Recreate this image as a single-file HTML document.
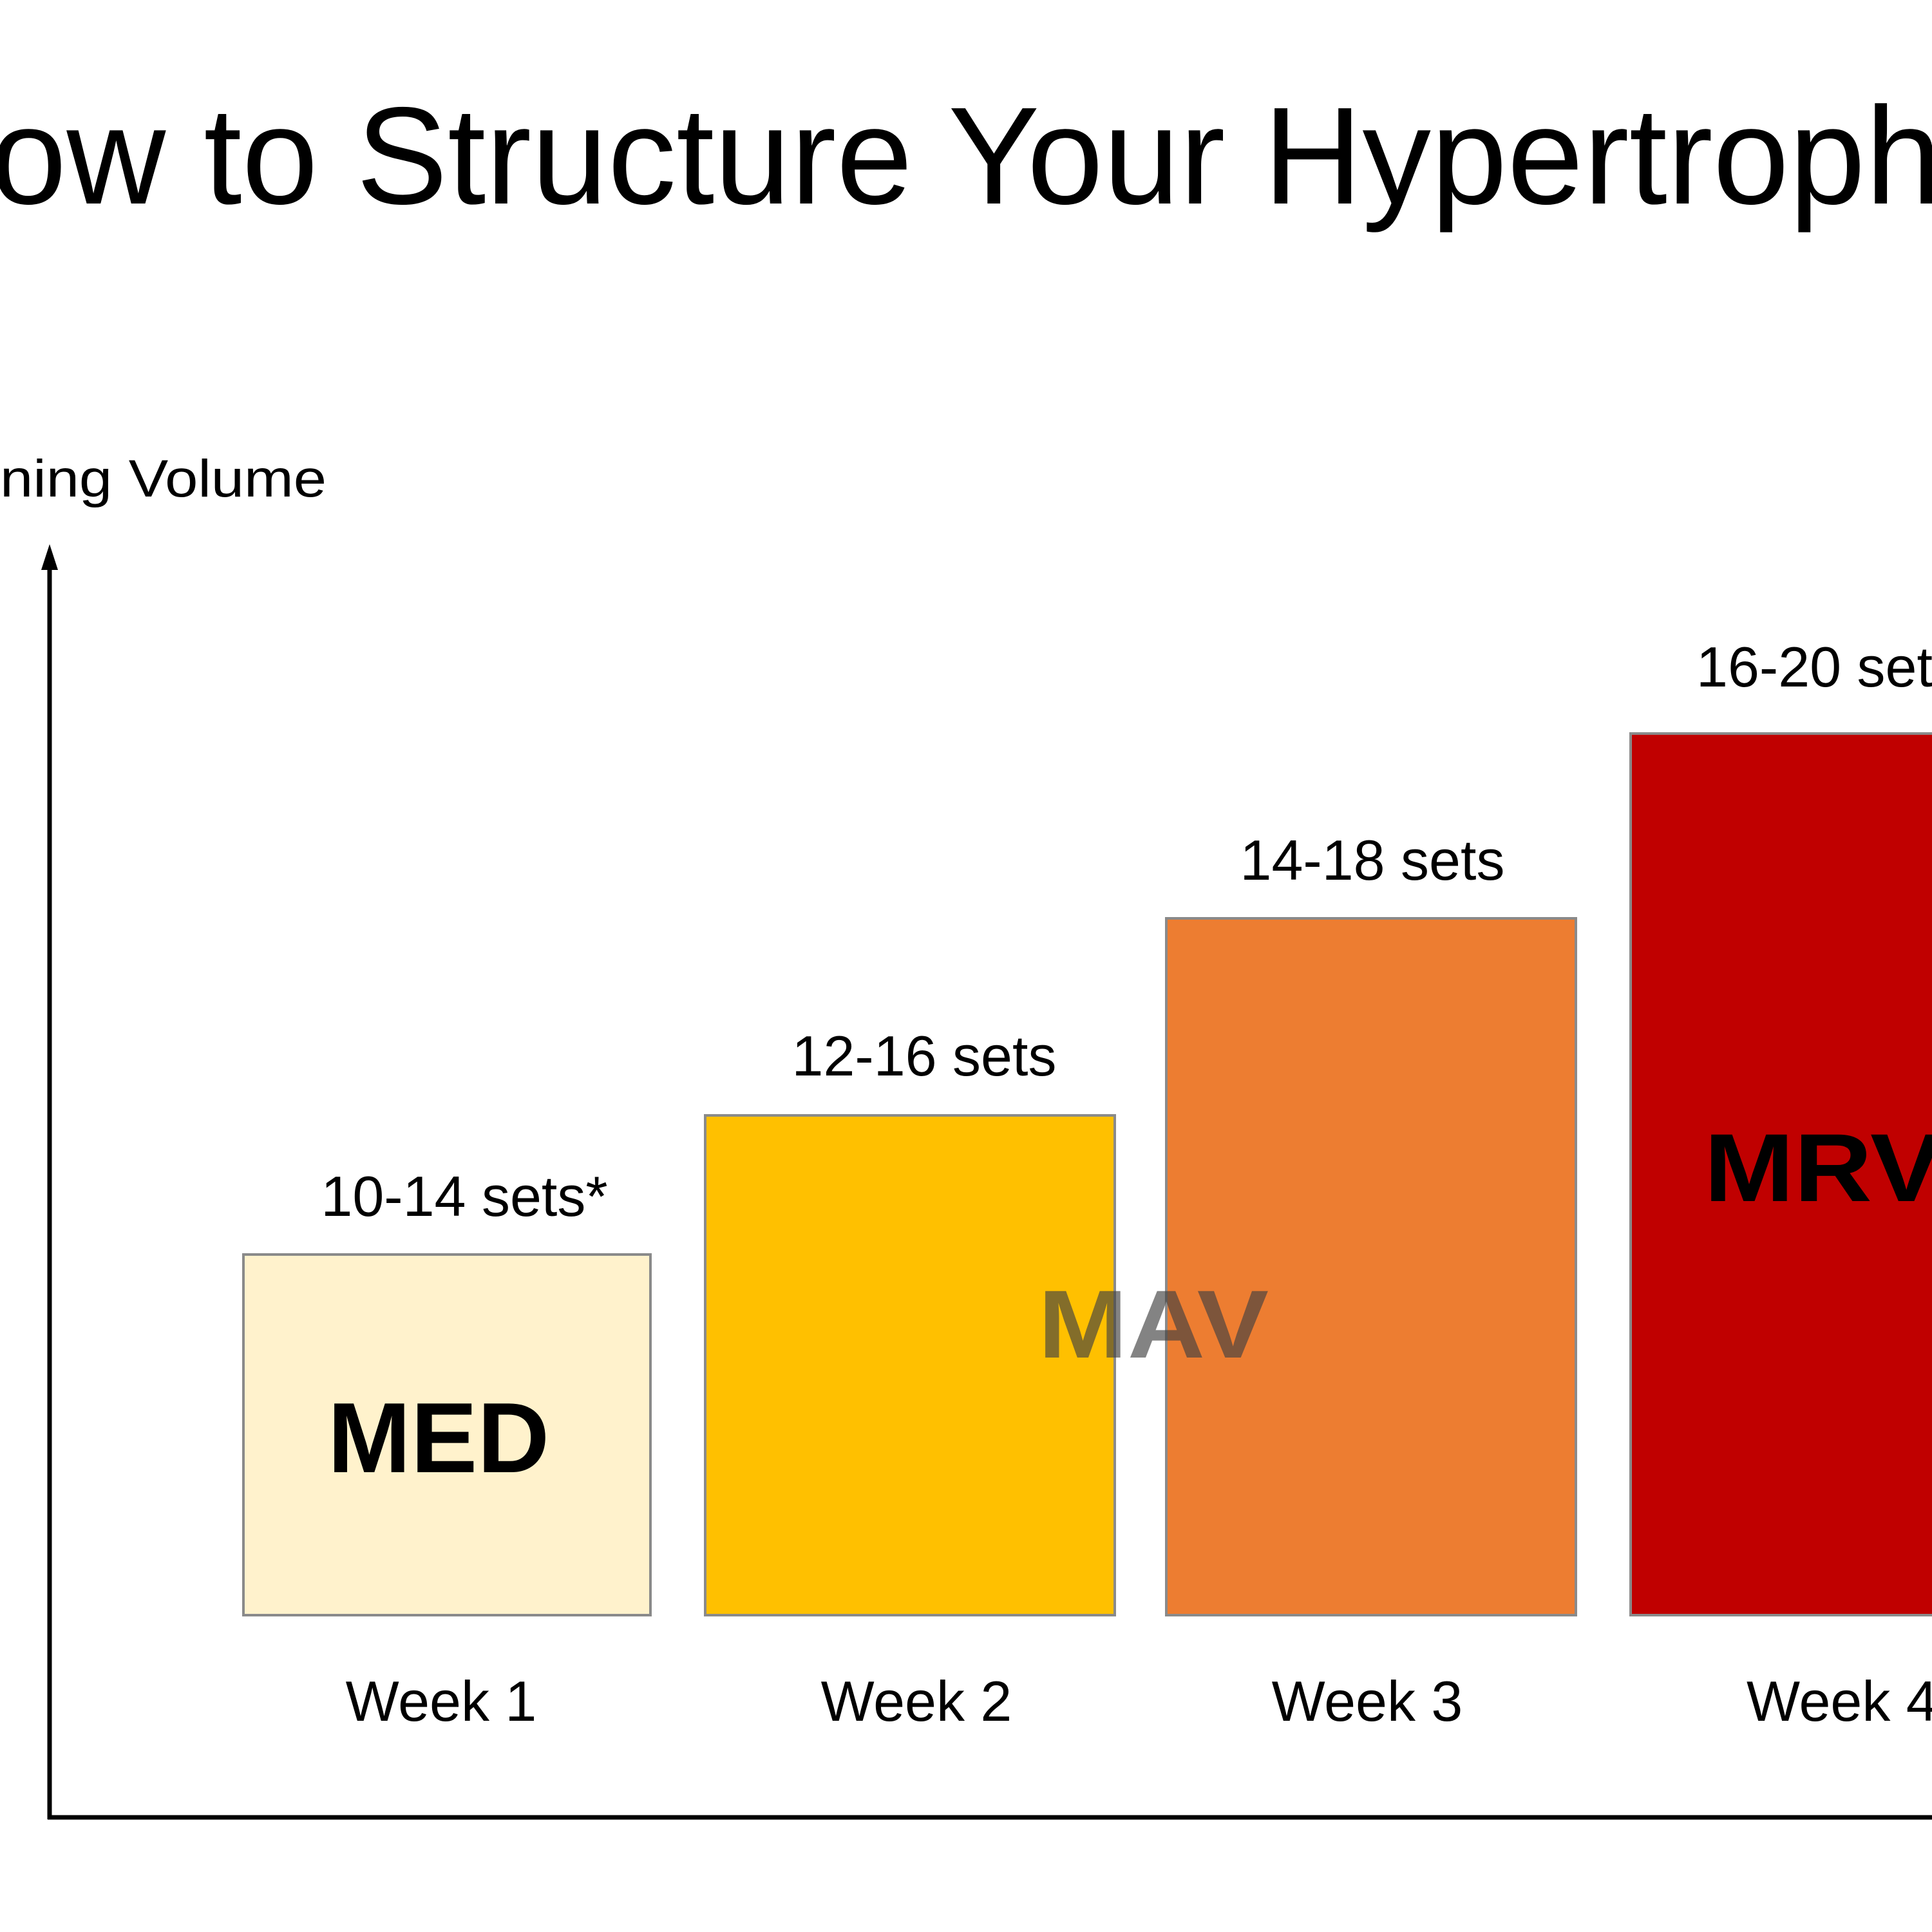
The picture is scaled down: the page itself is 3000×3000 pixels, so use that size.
<!DOCTYPE html>
<html><head><meta charset="utf-8"><style>
html,body{margin:0;padding:0;background:#fff;width:3000px;height:3000px;overflow:hidden}
svg{display:block}
text{font-family:"Liberation Sans",sans-serif}
</style></head><body>
<svg width="3000" height="3000" viewBox="0 0 3000 3000" xmlns="http://www.w3.org/2000/svg">
<rect width="3000" height="3000" fill="#fff"/>
<text x="-15" y="316" font-size="215" fill="#000" textLength="3030" lengthAdjust="spacingAndGlyphs">ow to Structure Your Hypertroph</text>
<text x="0" y="771" font-size="82" fill="#000" textLength="507" lengthAdjust="spacingAndGlyphs">ning Volume</text>
<!-- axes -->
<line x1="77" y1="870" x2="77" y2="2825" stroke="#000" stroke-width="7"/>
<polygon points="77,845 64,885 90,885" fill="#000"/>
<line x1="74" y1="2822" x2="3000" y2="2822" stroke="#000" stroke-width="7"/>
<!-- bars -->
<rect x="378" y="1948" width="632" height="560" fill="#FFF2CC" stroke="#8a8a8a" stroke-width="4"/>
<rect x="1095" y="1732" width="636" height="776" fill="#FFC000" stroke="#8a8a8a" stroke-width="4"/>
<rect x="1811" y="1426" width="636" height="1082" fill="#ED7D31" stroke="#8a8a8a" stroke-width="4"/>
<rect x="2532" y="1139" width="480" height="1369" fill="#C00000" stroke="#8a8a8a" stroke-width="4"/>
<!-- value labels -->
<g font-size="88" fill="#000" text-anchor="middle">
<text x="721" y="1888">10-14 sets*</text>
<text x="1435" y="1670">12-16 sets</text>
<text x="2131" y="1366">14-18 sets</text>
<text x="2634" y="1066" text-anchor="start">16-20 sets</text>
</g>
<g font-size="88" fill="#000" text-anchor="middle">
<text x="685" y="2672">Week 1</text>
<text x="1423" y="2672">Week 2</text>
<text x="2123" y="2672">Week 3</text>
<text x="2712" y="2672" text-anchor="start">Week 4</text>
</g>
<text x="681" y="2286" font-size="155" font-weight="bold" text-anchor="middle" fill="#000">MED</text>
<text x="1791" y="2108" font-size="150" font-weight="bold" text-anchor="middle" fill="#404040" fill-opacity="0.65" textLength="358" lengthAdjust="spacingAndGlyphs">MAV</text>
<text x="2646" y="1865" font-size="150" font-weight="bold" fill="#000" textLength="370" lengthAdjust="spacingAndGlyphs">MRV</text>
</svg>
</body></html>
